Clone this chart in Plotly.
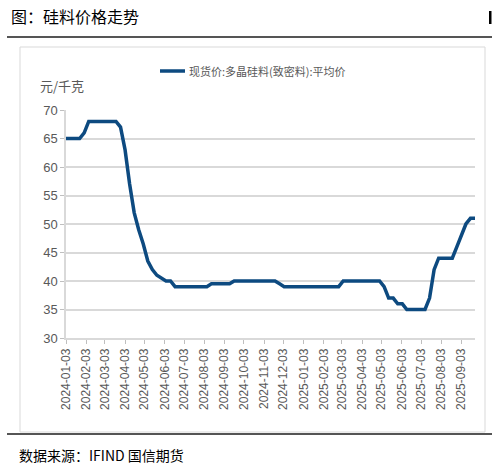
import pandas as pd
import plotly.graph_objects as go

# weekly spot price, polysilicon (dense material), yuan/kg
dates = pd.date_range("2024-01-03", periods=91, freq="7D")
prices = [
    65, 65, 65, 65, 66, 68, 68, 68, 68, 68, 68, 68, 67, 63, 57, 52, 49, 46.5,
    43.5, 42, 41, 40.5, 40, 40, 39, 39, 39, 39, 39, 39, 39, 39, 39.5, 39.5,
    39.5, 39.5, 39.5, 40, 40, 40, 40, 40, 40, 40, 40, 40, 40, 39.5, 39, 39,
    39, 39, 39, 39, 39, 39, 39, 39, 39, 39, 39, 40, 40, 40, 40, 40, 40, 40,
    40, 40, 39, 37, 37, 36, 36, 35, 35, 35, 35, 35, 37, 42, 44, 44, 44, 44,
    46, 48, 50, 51, 51,
]
tick_dates = pd.date_range("2024-01-01", "2025-09-01", freq="MS") + pd.Timedelta(days=2)
series_name = "现货价:多晶硅料(致密料):平均价"

W, H = 497, 467
L, R, T, B = 66, 22, 110, 129


def px(x):
    return (x - L) / (W - L - R)


def py(y):
    return (H - B - y) / (H - T - B)


fig = go.Figure()
fig.add_trace(go.Scatter(
    x=dates, y=prices, mode="lines", name=series_name,
    line=dict(color="#0d4a80", width=3.5),
    showlegend=False,
))

grey = "#595959"
fig.update_layout(
    width=W, height=H,
    margin=dict(l=L, r=R, t=T, b=B),
    paper_bgcolor="white", plot_bgcolor="white",
    font=dict(family="Liberation Sans, Arial, sans-serif", color=grey),
    xaxis=dict(
        type="date",
        range=["2024-01-03", "2025-09-24"],
        tickvals=tick_dates,
        tickformat="%Y-%m-%d",
        tickangle=-90,
        tickfont=dict(size=12, color=grey),
        ticks="outside", ticklen=4, tickcolor="#bfbfbf",
        showline=True, linecolor="#d9d9d9", linewidth=1.5,
        showgrid=False, zeroline=False,
    ),
    yaxis=dict(
        range=[30, 70], dtick=5,
        tickfont=dict(size=13, color=grey,
                      family="Liberation Sans Narrow, Arial Narrow, sans-serif"),
        ticks="outside", ticklen=4, tickcolor="#bfbfbf",
        showline=True, linecolor="#d9d9d9", linewidth=1.5,
        showgrid=True, gridcolor="#d9d9d9", gridwidth=1.5,
        zeroline=False,
    ),
)

shapes = [
    # frame lines
    dict(type="line", x0=px(7), x1=px(492), y0=py(37), y1=py(37),
         line=dict(color="#555555", width=2)),
    dict(type="line", x0=px(7), x1=px(492), y0=py(434), y1=py(434),
         line=dict(color="#555555", width=2)),
    dict(type="rect", x0=px(20), x1=px(485), y0=py(432), y1=py(47),
         line=dict(color="#d9d9d9", width=1)),
    dict(type="rect", x0=px(489), x1=px(491.5), y0=py(24), y1=py(11),
         fillcolor="black", line=dict(width=0)),
    # legend sample
    dict(type="line", x0=px(160), x1=px(185), y0=py(71), y1=py(71),
         line=dict(color="#0d4a80", width=3.5)),
]
for s in shapes:
    s.update(xref="paper", yref="paper")
fig.update_layout(shapes=shapes)

annotations = [
    dict(text="图：硅料价格走势", x=px(9), y=py(16), xanchor="left", yanchor="middle",
         font=dict(size=16, color="black", family="Noto Sans CJK SC")),
    dict(text=series_name, x=px(187), y=py(71), xanchor="left", yanchor="middle",
         font=dict(size=11, color=grey, family="Noto Sans CJK SC")),
    dict(text="元/千克", x=px(38), y=py(85), xanchor="left", yanchor="middle",
         font=dict(size=13, color=grey, family="Noto Sans CJK SC")),
    dict(text="数据来源：IFIND 国信期货", x=px(17), y=py(455), xanchor="left", yanchor="middle",
         font=dict(size=14, color="black", family="Noto Sans CJK SC")),
]
for a in annotations:
    a.update(xref="paper", yref="paper", showarrow=False)
fig.update_layout(annotations=annotations)

# drop the browser's default page margin so the figure sits at the window corner
fig.write_html("out.html", config={"displayModeBar": False},
               post_script="document.body.style.margin = '0';")
